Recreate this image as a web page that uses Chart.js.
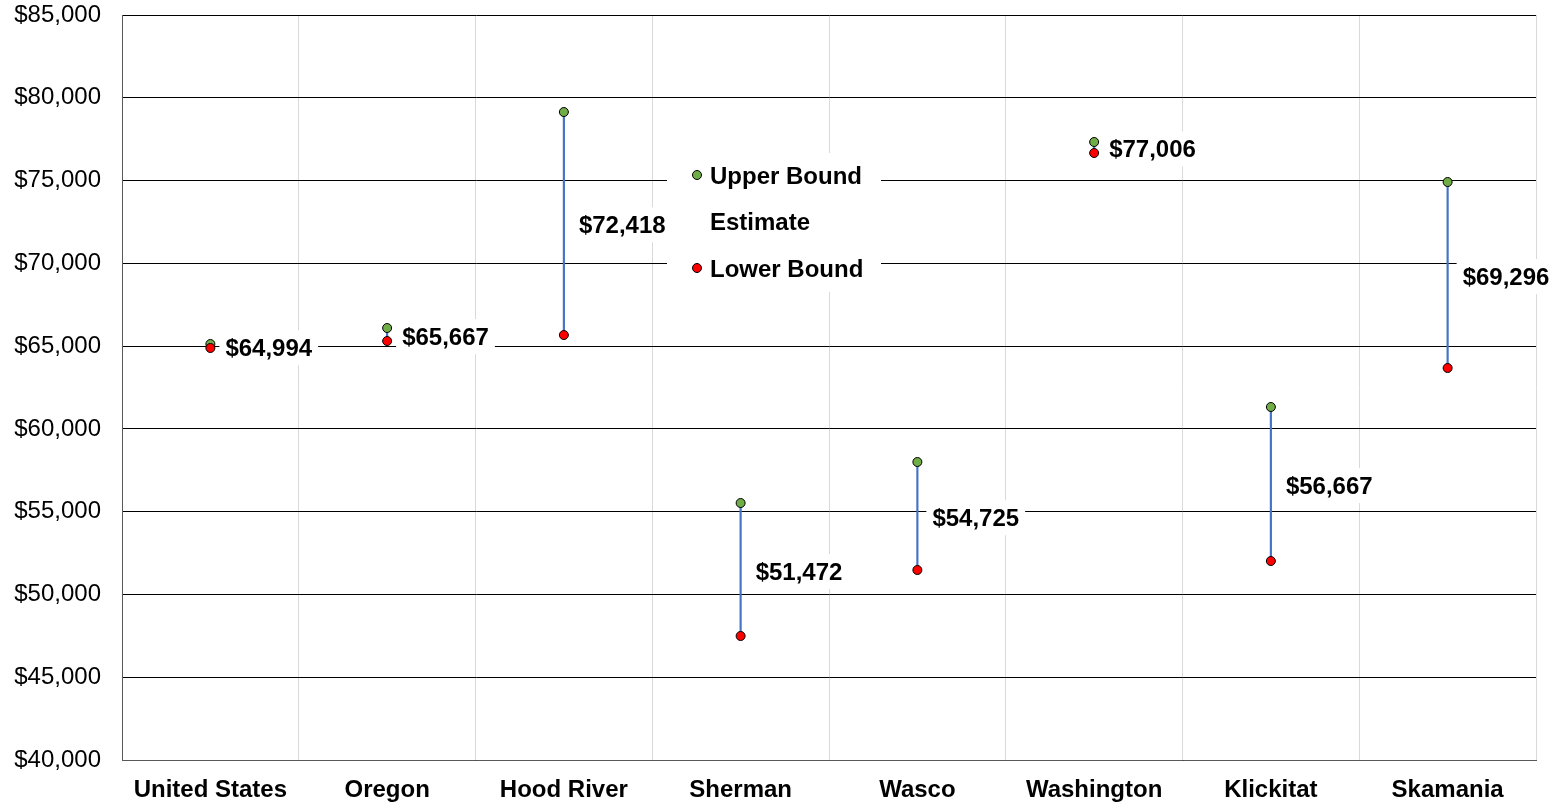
<!DOCTYPE html>
<html>
<head>
<meta charset="utf-8">
<script src="https://cdn.jsdelivr.net/npm/chart.js@4.4.1/dist/chart.umd.min.js"></script>
<style>
  html, body { margin: 0; padding: 0; background: #fff; }
  #wrap { width: 1561px; height: 802px; }
</style>
</head>
<body>
<div id="wrap"><canvas id="myChart"></canvas></div>
<script>
const areas = ["United States", "Oregon", "Hood River", "Sherman", "Wasco", "Washington", "Klickitat", "Skamania"];
const upperBound = [65127, 66093, 79140, 55523, 58000, 77328, 61322, 74912];
const estimate = [64994, 65667, 72418, 51472, 54725, 77006, 56667, 69296];
const lowerBound = [64886, 65308, 65670, 47490, 51476, 76664, 52020, 63677];
const yMin = 40000;
const yMax = 85000;
const yStep = 5000;

const FONT = "Arial, 'Liberation Sans', sans-serif";
const GREEN = "#70AD47";
const RED = "#FF0000";
const BLUE = "#4472C4";

const money = (v) => "$" + Number(v).toLocaleString("en-US");

// labels for the estimate, to the right of each range
const estimateLabels = {
  id: "estimateLabels",
  afterDatasetsDraw(chart) {
    const { ctx, scales } = chart;
    ctx.save();
    ctx.font = "bold 24px " + FONT;
    ctx.textBaseline = "middle";
    ctx.textAlign = "left";
    estimate.forEach((v, i) => {
      const px = scales.x.getPixelForValue(i);
      const py = scales.y.getPixelForValue(v);
      const text = money(v);
      const w = ctx.measureText(text).width;
      const tx = px + 15;
      ctx.fillStyle = "#fff";
      ctx.fillRect(tx - 6, py - 16, w + 12, 35);
      ctx.fillStyle = "#000";
      ctx.fillText(text, tx, py + 3);
    });
    ctx.restore();
  },
};

// legend sits inside the plot area
const innerLegend = {
  id: "innerLegend",
  afterDraw(chart) {
    const { ctx, chartArea } = chart;
    const left = chartArea.left + 545;
    const top = chartArea.top + 138;
    ctx.save();
    ctx.fillStyle = "#fff";
    ctx.fillRect(left, top, 214, 139);
    const items = [
      { label: "Upper Bound", color: GREEN },
      { label: "Estimate", color: null },
      { label: "Lower Bound", color: RED },
    ];
    ctx.font = "bold 24px " + FONT;
    ctx.textBaseline = "middle";
    ctx.textAlign = "left";
    items.forEach((it, k) => {
      const y = chartArea.top + 160 + k * 46.5;
      if (it.color) {
        ctx.beginPath();
        ctx.arc(left + 30, y, 4.5, 0, Math.PI * 2);
        ctx.fillStyle = it.color;
        ctx.fill();
        ctx.lineWidth = 1;
        ctx.strokeStyle = "#000";
        ctx.stroke();
      }
      ctx.fillStyle = "#000";
      ctx.fillText(it.label, left + 43, y + 2);
    });
    ctx.restore();
  },
};

const data = {
  labels: areas,
  datasets: [
    {
      type: "line",
      label: "Lower Bound",
      data: lowerBound,
      showLine: false,
      pointRadius: 4.5,
      pointBackgroundColor: RED,
      pointBorderColor: "#000",
      pointBorderWidth: 1,
      order: 0,
    },
    {
      type: "line",
      label: "Upper Bound",
      data: upperBound,
      showLine: false,
      pointRadius: 4.5,
      pointBackgroundColor: GREEN,
      pointBorderColor: "#000",
      pointBorderWidth: 1,
      order: 1,
    },
    {
      type: "line",
      label: "Estimate",
      data: estimate,
      showLine: false,
      pointRadius: 0,
      order: 2,
    },
    {
      type: "bar",
      label: "range",
      data: lowerBound.map((lo, i) => [lo, upperBound[i]]),
      backgroundColor: BLUE,
      barThickness: 1.5,
      order: 3,
    },
  ],
};

const config = {
  type: "bar",
  data: data,
  options: {
    responsive: true,
    maintainAspectRatio: false,
    devicePixelRatio: 1,
    animation: false,
    layout: { padding: { left: 0, right: 25, top: 15, bottom: 0 } },
    plugins: {
      legend: { display: false },
      tooltip: { enabled: false },
    },
    scales: {
      x: {
        offset: true,
        grid: { offset: true, color: "#d9d9d9", lineWidth: 1, drawTicks: false },
        border: { color: "#595959", width: 1 },
        ticks: { color: "#000", font: { family: FONT, size: 24, weight: "bold" }, padding: 16, maxRotation: 0 },
        afterFit: (s) => { s.height = 42; s.paddingLeft = 0; s.paddingRight = 0; },
      },
      y: {
        min: yMin,
        max: yMax,
        ticks: {
          stepSize: yStep,
          color: "#000",
          font: { family: FONT, size: 24 },
          padding: 21,
          callback: (v) => money(v),
        },
        grid: { color: "#000", lineWidth: 1, drawTicks: false },
        border: { color: "#595959", width: 1 },
        afterFit: (s) => { s.width = 122; s.paddingTop = 0; s.paddingBottom = 0; },
      },
    },
  },
  plugins: [estimateLabels, innerLegend],
};

new Chart(document.getElementById("myChart"), config);
</script>
</body>
</html>
